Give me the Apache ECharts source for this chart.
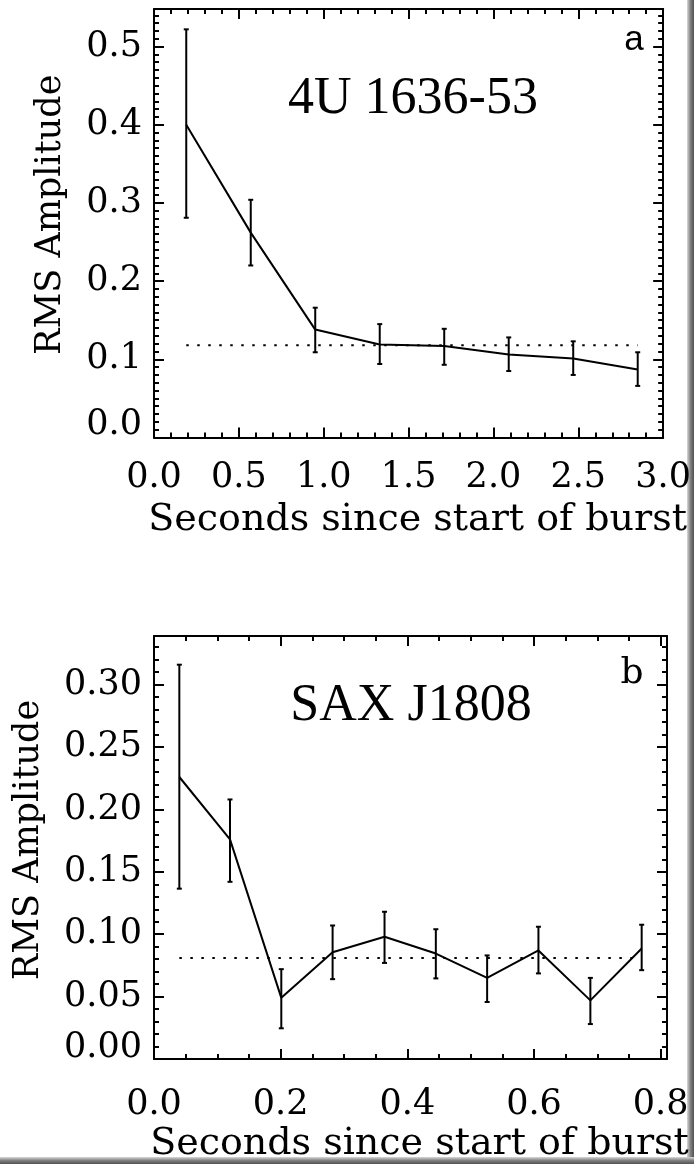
<!DOCTYPE html>
<html>
<head>
<meta charset="utf-8">
<script src="https://cdn.jsdelivr.net/npm/echarts@6/dist/echarts.min.js"></script>
<style>
html,body{margin:0;padding:0;background:#fff;}
#chart{width:694px;height:1164px;}
</style>
</head>
<body>
<div id="chart"></div>
<script>
// ---- Panel a: 4U 1636-53 ----
const timeA = [0.19, 0.57, 0.95, 1.33, 1.71, 2.09, 2.47, 2.85];
const rmsA  = [0.400, 0.262, 0.138, 0.119, 0.117, 0.106, 0.101, 0.087];
const lowA  = [0.281, 0.220, 0.109, 0.094, 0.093, 0.085, 0.080, 0.066];
const highA = [0.522, 0.304, 0.166, 0.145, 0.139, 0.128, 0.123, 0.109];
const meanA = 0.118;

// ---- Panel b: SAX J1808 ----
const timeB = [0.040, 0.120, 0.201, 0.282, 0.364, 0.445, 0.526, 0.607, 0.689, 0.770];
const rmsB  = [0.226, 0.176, 0.049, 0.0855, 0.098, 0.0845, 0.065, 0.087, 0.047, 0.0886];
const lowB  = [0.1365, 0.142, 0.0246, 0.064, 0.077, 0.0646, 0.0457, 0.0686, 0.028, 0.0712];
const highB = [0.316, 0.208, 0.072, 0.107, 0.118, 0.104, 0.083, 0.106, 0.065, 0.1076];
const meanB = 0.081;

const labelA = '4U 1636-53', labelB = 'SAX J1808';
const xName = 'Seconds since start of burst', yName = 'RMS Amplitude';

const AX = 'DejaVu Serif';
const black = '#000';

function xAxes(grid, max, major, minor, digits, nameGap, margin) {
  const base = {gridIndex: grid, type: 'value', min: 0, max: max, splitLine: {show: false}};
  return [
    Object.assign({}, base, {
      position: 'bottom', interval: major,
      axisLine: {show: true, onZero: false, lineStyle: {color: black, width: 2}},
      axisTick: {show: true, inside: true, length: 10, lineStyle: {color: black, width: 2}},
      axisLabel: {show: true, margin: margin, color: black, fontFamily: AX, fontSize: 35,
        showMaxLabel: max % major < 1e-9 || Math.abs(max % major - major) < 1e-9,
        formatter: v => v.toFixed(digits)},
      name: xName, nameLocation: 'middle', nameGap: nameGap,
      nameTextStyle: {color: black, fontFamily: AX, fontSize: 38, padding: [0, 0, 0, 18]}
    }),
    Object.assign({}, base, {
      position: 'bottom', interval: minor,
      axisLine: {show: false, onZero: false},
      axisTick: {show: true, inside: true, length: 5, lineStyle: {color: black, width: 2}},
      axisLabel: {show: false}
    }),
    Object.assign({}, base, {
      position: 'top', interval: major,
      axisLine: {show: true, onZero: false, lineStyle: {color: black, width: 2}},
      axisTick: {show: true, inside: true, length: 10, lineStyle: {color: black, width: 2}},
      axisLabel: {show: false}
    }),
    Object.assign({}, base, {
      position: 'top', interval: minor,
      axisLine: {show: false, onZero: false},
      axisTick: {show: true, inside: true, length: 5, lineStyle: {color: black, width: 2}},
      axisLabel: {show: false}
    })
  ];
}

function yAxes(grid, max, major, minor, digits, nameGap, zeroPad, nameShift) {
  const base = {gridIndex: grid, type: 'value', min: 0, max: max, splitLine: {show: false}};
  const zeroTxt = (0).toFixed(digits);
  return [
    Object.assign({}, base, {
      position: 'left', interval: major,
      axisLine: {show: true, onZero: false, lineStyle: {color: black, width: 2}},
      axisTick: {show: true, inside: true, length: 10, lineStyle: {color: black, width: 2}},
      axisLabel: {show: true, margin: 12, color: black, fontFamily: AX, fontSize: 35,
        showMaxLabel: false,
        formatter: v => Math.abs(v) < 1e-9 ? '{z|' + zeroTxt + '}' : v.toFixed(digits),
        rich: {z: {fontFamily: AX, fontSize: 35, color: black, padding: [0, 0, zeroPad, 0]}}},
      name: yName, nameLocation: 'middle', nameGap: nameGap,
      nameTextStyle: {color: black, fontFamily: AX, fontSize: 35, padding: [0, 0, 0, nameShift]}
    }),
    Object.assign({}, base, {
      position: 'left', interval: minor,
      axisLine: {show: false, onZero: false},
      axisTick: {show: true, inside: true, length: 5, lineStyle: {color: black, width: 2}},
      axisLabel: {show: false}
    }),
    Object.assign({}, base, {
      position: 'right', interval: major,
      axisLine: {show: true, onZero: false, lineStyle: {color: black, width: 2}},
      axisTick: {show: true, inside: true, length: 10, lineStyle: {color: black, width: 2}},
      axisLabel: {show: false}
    }),
    Object.assign({}, base, {
      position: 'right', interval: minor,
      axisLine: {show: false, onZero: false},
      axisTick: {show: true, inside: true, length: 5, lineStyle: {color: black, width: 2}},
      axisLabel: {show: false}
    })
  ];
}

function errRender(params, api) {
  const x = api.value(0), lo = api.value(1), hi = api.value(2);
  const p1 = api.coord([x, lo]), p2 = api.coord([x, hi]);
  const w = 2.5;
  const st = {stroke: black, lineWidth: 2};
  return {type: 'group', children: [
    {type: 'line', shape: {x1: p1[0], y1: p1[1], x2: p2[0], y2: p2[1]}, style: st},
    {type: 'line', shape: {x1: p1[0] - w, y1: p1[1], x2: p1[0] + w, y2: p1[1]}, style: st},
    {type: 'line', shape: {x1: p2[0] - w, y1: p2[1], x2: p2[0] + w, y2: p2[1]}, style: st}
  ]};
}

function panelSeries(xi, yi, t, r, lo, hi, mean) {
  return [
    {type: 'line', xAxisIndex: xi, yAxisIndex: yi, data: t.map((x, i) => [x, r[i]]),
      symbol: 'none', lineStyle: {color: black, width: 2}, silent: true, animation: false},
    {type: 'custom', xAxisIndex: xi, yAxisIndex: yi, renderItem: errRender,
      data: t.map((x, i) => [x, lo[i], hi[i]]), encode: {x: 0, y: [1, 2]}, silent: true, animation: false},
    {type: 'line', xAxisIndex: xi, yAxisIndex: yi, data: [[t[0], mean], [t[t.length - 1], mean]],
      symbol: 'none', lineStyle: {color: black, width: 2, type: [2.5, 8.5]}, silent: true, animation: false}
  ];
}

const chart = echarts.init(document.getElementById('chart'), null, {renderer: 'canvas'});
chart.setOption({
  backgroundColor: '#fff',
  animation: false,
  grid: [
    {left: 154, top: 9, width: 513, height: 428.5},
    {left: 154, top: 636, width: 513, height: 429.5}
  ],
  xAxis: [].concat(
    xAxes(0, 3.0, 0.5, 0.1, 1, 64, 23),
    xAxes(1, 0.81, 0.2, 0.05, 1, 66, 28)
  ),
  yAxis: [].concat(
    yAxes(0, 0.548, 0.1, 0.01, 1, 86, 26, 17),
    yAxes(1, 0.339, 0.05, 0.01, 2, 108, 22, 15)
  ),
  series: [].concat(
    panelSeries(0, 0, timeA, rmsA, lowA, highA, meanA),
    panelSeries(4, 4, timeB, rmsB, lowB, highB, meanB)
  ),
  graphic: [
    {type: 'text', x: 413, y: 99, style: {text: labelA, font: '52px "Liberation Serif"', fill: black, align: 'center', verticalAlign: 'middle'}},
    {type: 'text', x: 411, y: 706, style: {text: labelB, font: '52px "Liberation Serif"', fill: black, align: 'center', verticalAlign: 'middle'}},
    {type: 'text', x: 634, y: 40, style: {text: 'a', font: '35px "Liberation Sans"', fill: black, align: 'center', verticalAlign: 'middle'}},
    {type: 'text', x: 632, y: 674, style: {text: 'b', font: '36px "DejaVu Serif"', fill: black, align: 'center', verticalAlign: 'middle'}},
    {type: 'rect', shape: {x: 687, y: 0, width: 7, height: 1164},
      style: {fill: new echarts.graphic.LinearGradient(0, 0, 1, 0, [{offset: 0, color: '#d8d8d8'}, {offset: 0.5, color: '#808080'}, {offset: 1, color: '#505050'}])}},
    {type: 'rect', shape: {x: 0, y: 1157, width: 694, height: 7},
      style: {fill: new echarts.graphic.LinearGradient(0, 0, 0, 1, [{offset: 0, color: '#d8d8d8'}, {offset: 0.5, color: '#808080'}, {offset: 1, color: '#505050'}])}}
  ]
});
</script>
</body>
</html>
